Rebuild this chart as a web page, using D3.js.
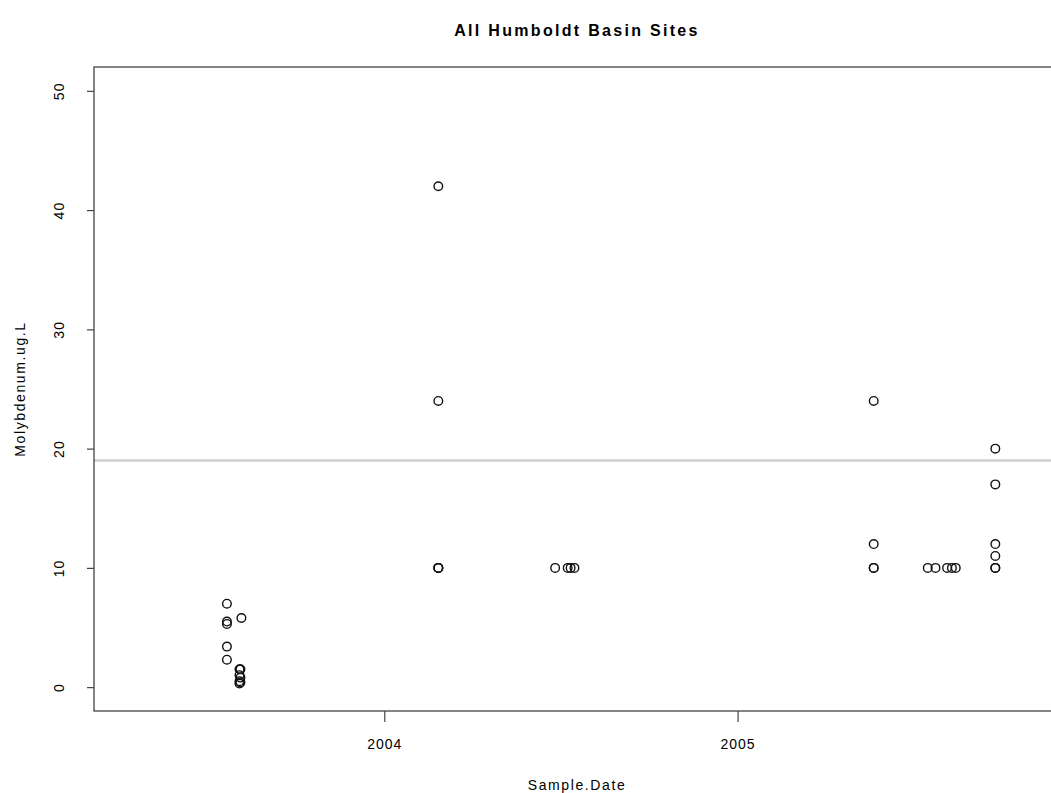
<!DOCTYPE html>
<html>
<head>
<meta charset="utf-8">
<script src="https://cdn.jsdelivr.net/npm/d3@7"></script>
<style>
  html, body { margin: 0; padding: 0; background: #fff; }
  svg { display: block; }
  text { font-family: "Liberation Sans", Arial, sans-serif; fill: #000; }
</style>
</head>
<body>
<svg id="chart" width="1051" height="793"></svg>
<script>
// ---- data ----
const sampleDates = [
  "2003-07-22","2003-07-22","2003-07-22","2003-07-22","2003-07-22",
  "2003-08-06","2003-08-05","2003-08-04","2003-08-04","2003-08-05","2003-08-04","2003-08-05","2003-08-04",
  "2004-02-26","2004-02-26","2004-02-26","2004-02-26","2004-02-26",
  "2004-06-26","2004-07-09","2004-07-12","2004-07-16",
  "2005-05-22","2005-05-22","2005-05-22","2005-05-22",
  "2005-07-17","2005-07-25","2005-08-06","2005-08-11","2005-08-15",
  "2005-09-25","2005-09-25","2005-09-25","2005-09-25","2005-09-25","2005-09-25"
];
const molybdenum = [
  7, 5.5, 5.3, 3.4, 2.3,
  5.8, 1.5, 1.5, 1.0, 0.8, 0.5, 0.4, 0.3,
  42, 24, 10, 10, 10,
  10, 10, 10, 10,
  24, 12, 10, 10,
  10, 10, 10, 10, 10,
  20, 17, 12, 11, 10, 10
];
const yTicks = [0, 10, 20, 30, 40, 50];
const xTickDates = ["2004-01-01", "2005-01-01"];
const xTickLabels = ["2004", "2005"];
const refLine = 19;
const chartTitle = "All Humboldt Basin Sites";
const xLabel = "Sample.Date";
const yLabel = "Molybdenum.ug.L";

// ---- layout ----
const svg = d3.select("#chart");
const mLeft = 94, mRight = 1060, mTop = 67, mBottom = 711;
const parse = d3.utcParse("%Y-%m-%d");

const x = d3.scaleUtc()
  .domain([new Date(Date.UTC(2003, 2, 6, 7)), new Date(Date.UTC(2005, 11, 1))])
  .range([mLeft, mRight]);
const y = d3.scaleLinear().domain([-2, 52]).range([mBottom, mTop]);

svg.append("defs").append("clipPath").attr("id", "clip")
  .append("rect").attr("x", mLeft).attr("y", mTop).attr("width", mRight - mLeft).attr("height", mBottom - mTop);

// reference line
svg.append("line")
  .attr("x1", mLeft).attr("x2", mRight)
  .attr("y1", y(refLine)).attr("y2", y(refLine))
  .attr("stroke", "#cfcfcf").attr("stroke-width", 2.5);

// points
svg.append("g").attr("clip-path", "url(#clip)")
  .selectAll("circle")
  .data(sampleDates.map((d, i) => ({ d: parse(d), v: molybdenum[i] })))
  .join("circle")
  .attr("cx", p => x(p.d))
  .attr("cy", p => y(p.v))
  .attr("r", 4.3)
  .attr("fill", "none")
  .attr("stroke", "#111")
  .attr("stroke-width", 1.4);

// box
svg.append("rect")
  .attr("x", mLeft).attr("y", mTop)
  .attr("width", mRight - mLeft).attr("height", mBottom - mTop)
  .attr("fill", "none").attr("stroke", "#444").attr("stroke-width", 1.3);

// y axis
const yAxis = d3.axisLeft(y).tickValues(yTicks).tickSize(7).tickPadding(0).tickFormat(d3.format("d"));
const gy = svg.append("g").attr("transform", `translate(${mLeft},0)`).call(yAxis);
gy.select(".domain").remove();
gy.selectAll(".tick line").attr("stroke", "#444").attr("stroke-width", 1.2);
gy.selectAll(".tick text")
  .attr("x", 0).attr("dy", null)
  .attr("transform", "translate(-34,0) rotate(-90)")
  .attr("text-anchor", "middle")
  .attr("dominant-baseline", "middle")
  .style("font-size", "14px").style("letter-spacing", "1px");

// x axis
const xAxis = d3.axisBottom(x).tickValues(xTickDates.map(parse)).tickSize(11)
  .tickFormat((d, i) => xTickLabels[i]);
const gx = svg.append("g").attr("transform", `translate(0,${mBottom})`).call(xAxis);
gx.select(".domain").remove();
gx.selectAll(".tick line").attr("stroke", "#444").attr("stroke-width", 1.2);
gx.selectAll(".tick text").attr("y", 33).attr("dy", "0.35em")
  .style("font-size", "14px").style("letter-spacing", "1px");

// titles
svg.append("text")
  .attr("x", (mLeft + mRight) / 2).attr("y", 36)
  .attr("text-anchor", "middle")
  .style("font-size", "16px").style("font-weight", "bold").style("letter-spacing", "2.3px")
  .text(chartTitle);

svg.append("text")
  .attr("x", (mLeft + mRight) / 2).attr("y", 790)
  .attr("text-anchor", "middle")
  .style("font-size", "14px").style("letter-spacing", "1.6px")
  .text(xLabel);

svg.append("text")
  .attr("transform", `translate(25,${(mTop + mBottom) / 2}) rotate(-90)`)
  .attr("text-anchor", "middle")
  .style("font-size", "14px").style("letter-spacing", "1.6px")
  .text(yLabel);
</script>
</body>
</html>
